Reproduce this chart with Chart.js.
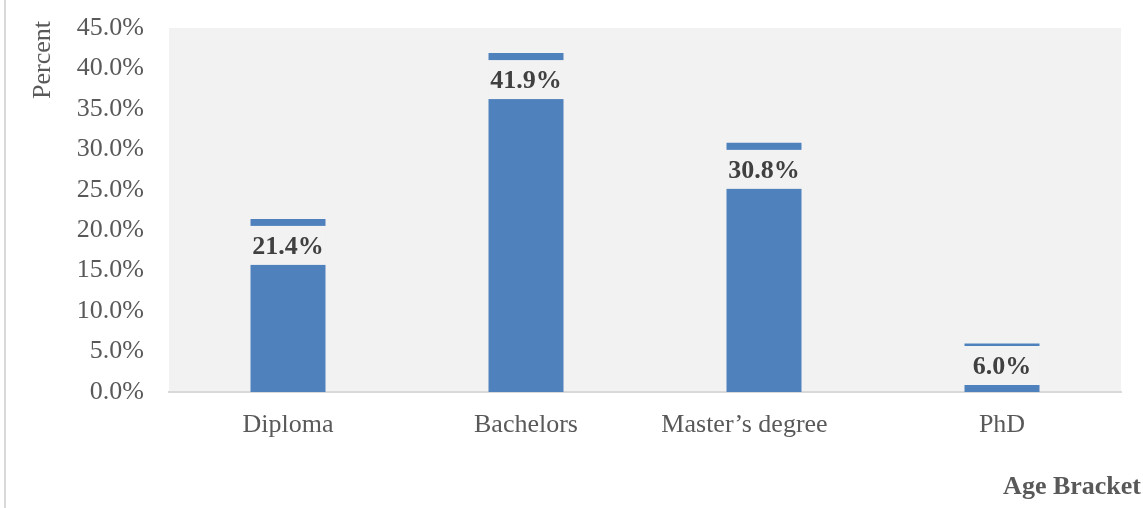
<!DOCTYPE html>
<html>
<head>
<meta charset="utf-8">
<script src="https://cdn.jsdelivr.net/npm/chart.js@4"></script>
<style>
html,body{margin:0;padding:0;background:#fff;}
#wrap{width:1143px;height:508px;position:relative;}
</style>
</head>
<body>
<div id="wrap"><canvas id="c" width="1143" height="508"></canvas></div>
<script>
const categories = ["Diploma", "Bachelors", "Master\u2019s degree      ", "PhD"];
const percentValues = [21.4, 41.9, 30.8, 6.0];
const yTickMax = 45;
const yTickStep = 5;
const yAxisTitle = "Percent";
const xAxisTitle = "Age Bracket";

const SERIF = "'Liberation Serif','Times New Roman',serif";

const decorPlugin = {
  id: 'decor',
  beforeDraw(chart) {
    const {ctx, chartArea: a} = chart;
    ctx.save();
    ctx.fillStyle = '#f2f2f2';
    ctx.fillRect(a.left, a.top, a.right - a.left, a.bottom - a.top);
    ctx.fillStyle = '#d9d9d9';
    ctx.fillRect(4, 0, 2, 508);
    ctx.restore();
  },
  afterDraw(chart) {
    const {ctx} = chart;
    ctx.save();
    ctx.fillStyle = '#595959';
    ctx.font = "26px " + SERIF;
    ctx.translate(43, 60);
    ctx.rotate(-Math.PI / 2);
    ctx.textAlign = 'center';
    ctx.textBaseline = 'middle';
    ctx.fillText(yAxisTitle, 0, 0);
    ctx.restore();
    ctx.save();
    ctx.fillStyle = '#595959';
    ctx.font = "bold 26px " + SERIF;
    ctx.textAlign = 'right';
    ctx.textBaseline = 'middle';
    ctx.fillText(xAxisTitle, 1141, 487);
    ctx.restore();
  },
  afterDatasetsDraw(chart) {
    const {ctx} = chart;
    const meta = chart.getDatasetMeta(0);
    ctx.save();
    meta.data.forEach((bar, i) => {
      const w = bar.width;
      const x0 = bar.x - w / 2;
      const boxH = 39;
      const top = Math.min(bar.y + 7, bar.base - 7 - boxH);
      ctx.fillStyle = '#f2f2f2';
      ctx.fillRect(x0 - 0.5, top, w + 1, boxH);
      ctx.fillStyle = '#404040';
      ctx.font = "bold 26px " + SERIF;
      ctx.textAlign = 'center';
      ctx.textBaseline = 'middle';
      ctx.fillText(percentValues[i].toFixed(1) + '%', bar.x, top + 21);
    });
    ctx.restore();
  }
};

new Chart(document.getElementById('c'), {
  type: 'bar',
  data: {
    labels: categories,
    datasets: [{
      data: percentValues,
      backgroundColor: '#4f81bd',
      borderWidth: 0,
      categoryPercentage: 1,
      barPercentage: 0.315
    }]
  },
  options: {
    responsive: false,
    animation: false,
    layout: {padding: {top: 28, right: 22, left: 0, bottom: 0}},
    plugins: {legend: {display: false}, tooltip: {enabled: false}},
    scales: {
      x: {
        grid: {display: false, drawTicks: false},
        border: {display: true, color: '#d9d9d9', width: 2},
        ticks: {color: '#595959', font: {family: SERIF, size: 26}, padding: 18},
        afterFit(s) { s.height = 116; s.paddingLeft = 0; s.paddingRight = 0; }
      },
      y: {
        min: 0, max: yTickMax,
        grid: {display: false, drawTicks: false},
        border: {display: false},
        ticks: {
          stepSize: yTickStep,
          color: '#595959',
          font: {family: SERIF, size: 26},
          padding: 25,
          callback: v => v.toFixed(1) + '%'
        },
        afterFit(s) { s.width = 169; s.paddingTop = 0; s.paddingBottom = 0; }
      }
    }
  },
  plugins: [decorPlugin]
});
</script>
</body>
</html>
